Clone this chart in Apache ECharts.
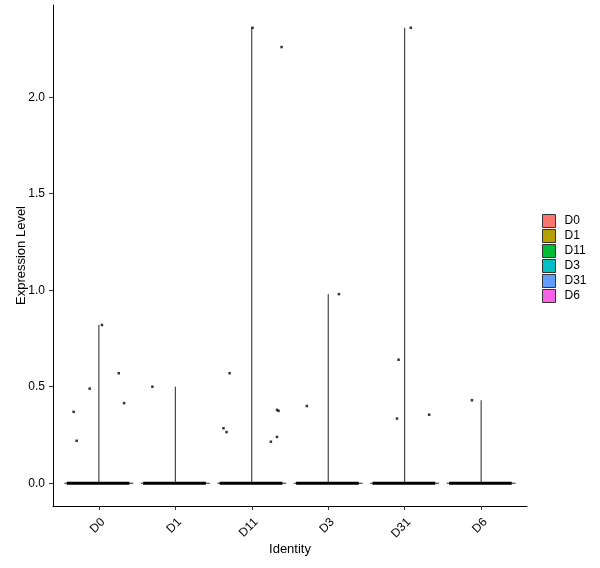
<!DOCTYPE html>
<html style="height: 100%">
<head>
<meta charset="utf-8">
<script type="text/javascript" src="https://cdn.jsdelivr.net/npm/echarts@6/dist/echarts.min.js"></script>
</head>
<body style="height: 100%; margin: 0; background: #fff">
<div id="container" style="width: 600px; height: 568px"></div>
<script type="text/javascript">
// identities (clusters) and their fill colours
var categories = ['D0', 'D1', 'D11', 'D3', 'D31', 'D6'];
var colors = ['#F8766D', '#B79F00', '#00BA38', '#00BFC4', '#619CFF', '#F564E3'];
// top of each (collapsed) violin
var violinMax = [0.82, 0.50, 2.36, 0.98, 2.36, 0.43];
// non-zero cells: [identity index, jitter, expression]
var cells = [
    [0, -0.33, 0.37], [0, -0.29, 0.22], [0, -0.12, 0.49], [0, 0.04, 0.82], [0, 0.26, 0.57], [0, 0.33, 0.415],
    [1, -0.30, 0.50],
    [2, -0.37, 0.285], [2, -0.33, 0.265], [2, -0.29, 0.57], [2, 0.01, 2.36], [2, 0.25, 0.215],
    [2, 0.33, 0.24], [2, 0.33, 0.38], [2, 0.35, 0.375], [2, 0.39, 2.26],
    [3, -0.28, 0.40], [3, 0.14, 0.98],
    [4, -0.10, 0.335], [4, -0.08, 0.64], [4, 0.08, 2.36], [4, 0.32, 0.355],
    [5, -0.12, 0.43]
];
var yTicks = [0, 0.5, 1, 1.5, 2];

var myChart = echarts.init(document.getElementById('container'));

// one custom series per identity: the flat violin at 0, the spike up to the max, and the band of zero cells
var violinSeries = categories.map(function (name, i) {
    return {
        name: name,
        type: 'custom',
        silent: true,
        itemStyle: { color: colors[i], borderColor: '#333', borderWidth: 1 },
        data: [[i, violinMax[i]]],
        renderItem: function (params, api) {
            var c = api.value(0), m = api.value(1);
            var l = api.coord([c - 0.45, 0]), r = api.coord([c + 0.45, 0]);
            var bl = api.coord([c - 0.42, 0]), br = api.coord([c + 0.40, 0]);
            var base = api.coord([c, 0]), top = api.coord([c, m]);
            return {
                type: 'group',
                children: [
                    { type: 'line', shape: { x1: l[0], y1: l[1], x2: r[0], y2: r[1] }, style: { stroke: '#222', lineWidth: 1 } },
                    { type: 'line', shape: { x1: base[0], y1: base[1], x2: top[0], y2: top[1] }, style: { stroke: '#222', lineWidth: 1 } },
                    { type: 'line', shape: { x1: bl[0], y1: bl[1], x2: br[0], y2: br[1] }, style: { stroke: '#000', lineWidth: 3 } }
                ]
            };
        }
    };
});

var option = {
    animation: false,
    textStyle: { fontFamily: 'Liberation Sans, Arial, sans-serif' },
    grid: { left: 53, right: 73, top: 5, bottom: 62, containLabel: false, outerBoundsMode: 'none' },
    legend: {
        orient: 'vertical',
        left: 542,
        top: 214,
        padding: 0,
        icon: 'rect',
        itemWidth: 13,
        itemHeight: 13,
        itemGap: 1,
        selectedMode: false,
        textStyle: { fontSize: 12, color: '#000', padding: [0, 0, 0, 4] },
        data: categories.map(function (n) {
            return { name: n, itemStyle: { borderColor: '#333', borderWidth: 1 } };
        })
    },
    xAxis: {
        type: 'value',
        min: -0.6,
        max: 5.6,
        name: 'Identity',
        nameLocation: 'middle',
        nameGap: 37,
        nameMoveOverlap: false,
        nameTextStyle: { fontSize: 13, color: '#000' },
        splitLine: { show: false },
        axisLine: { onZero: false, lineStyle: { color: '#000', width: 1 } },
        axisTick: { customValues: [0, 1, 2, 3, 4, 5], length: 4, lineStyle: { color: '#333' } },
        axisLabel: {
            customValues: [0, 1, 2, 3, 4, 5],
            rotate: 45,
            margin: 10,
            verticalAlign: 'top',
            fontSize: 12,
            color: '#000',
            formatter: function (v) { return categories[Math.round(v)]; }
        }
    },
    yAxis: {
        type: 'value',
        min: -0.118,
        max: 2.478,
        name: 'Expression Level',
        nameLocation: 'middle',
        nameGap: 25,
        nameMoveOverlap: false,
        nameTextStyle: { fontSize: 13, color: '#000' },
        splitLine: { show: false },
        axisLine: { show: true, onZero: false, lineStyle: { color: '#000', width: 1 } },
        axisTick: { show: true, customValues: yTicks, length: 4, lineStyle: { color: '#333' } },
        axisLabel: {
            customValues: yTicks,
            margin: 8,
            fontSize: 12,
            color: '#000',
            formatter: function (v) { return v.toFixed(1); }
        }
    },
    series: violinSeries.concat([{
        name: 'cells',
        type: 'scatter',
        silent: true,
        symbol: 'rect',
        symbolSize: 2.5,
        itemStyle: { color: '#000' },
        data: cells.map(function (d) { return [d[0] + d[1], d[2]]; })
    }])
};

myChart.setOption(option);
</script>
</body>
</html>
